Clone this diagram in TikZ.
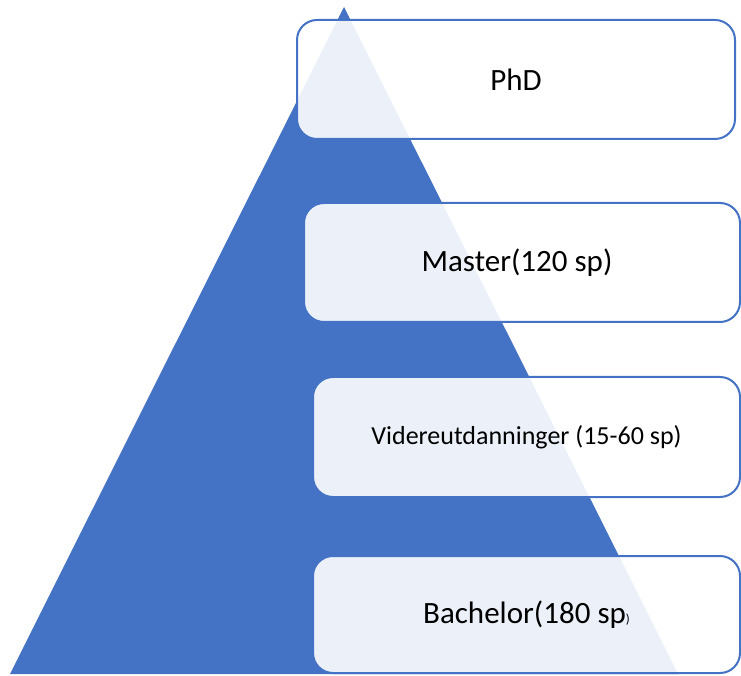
\documentclass[tikz,border=0pt]{standalone}
\usepackage{fontspec}
\setmainfont{Carlito}
\definecolor{accent}{HTML}{4472C4}
\begin{document}
\begin{tikzpicture}[x=1pt,y=1pt,
  level/.style={draw=accent, line width=2pt, fill=white, fill opacity=0.9, text opacity=1,
    rounded corners=20pt, inner sep=0pt, outer sep=0pt, anchor=south west, text=black,
    font=\fontsize{31}{36}\selectfont}]
\useasboundingbox (0,0) rectangle (741,675);
\fill[accent] (10,1) -- (678,1) -- (344,668) -- cycle;
\node[level, minimum width=438pt, minimum height=119pt] (phd) at (297,536) {PhD};
\node[level, minimum width=436pt, minimum height=119pt] (master) at (304,353) {\hspace*{-10pt}Master(120 sp)};
\node[level, minimum width=427pt, minimum height=120pt, font=\fontsize{26}{30}\selectfont] (videre) at (313,178) {Videreutdanninger (15-60 sp)};
\node[level, minimum width=427pt, minimum height=117pt] (bachelor) at (313,2) {Bachelor(180 sp{\fontsize{13}{14}\selectfont )}};
\end{tikzpicture}
\end{document}
